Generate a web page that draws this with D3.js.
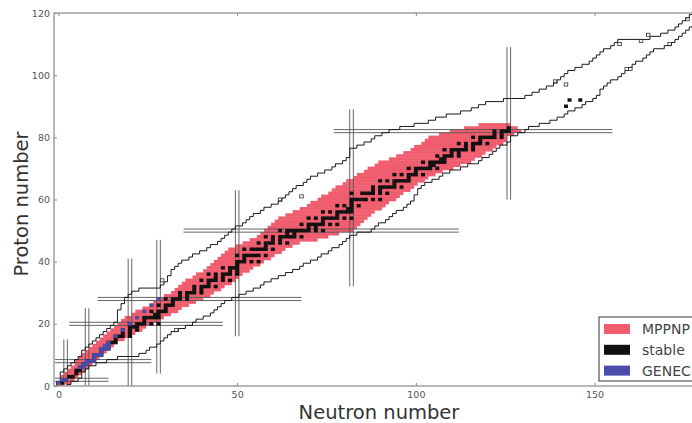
<!DOCTYPE html>
<html><head><meta charset="utf-8">
<script src="https://cdn.jsdelivr.net/npm/d3@7"></script>
<style>body{margin:0;background:#fff}svg{display:block}</style>
</head><body><svg id="c" width="692" height="423"></svg>
<script>
// ---------------- DATA ----------------
const xTicks = [0, 50, 100, 150];
const yTicks = [0, 20, 40, 60, 80, 100, 120];
const xLabel = "Neutron number";
const yLabel = "Proton number";
const legendItems = ["MPPNP", "stable", "GENEC"];

// magic-number guide lines: vertical [N, Zfrom, Zto], horizontal [Z, Nfrom, Nto]
const magicVertical = [[2,0,15],[8,0,25],[20,0,41],[28,4,47],[50,16,63],[82,32,89],[126,60,109]];
const magicHorizontal = [[2,-1,14],[8,-1,26],[20,3,46],[28,11,68],[50,35,112],[82,77,155]];

// MPPNP network band: for Z = 0..84, minimum and maximum N
const bandMinN = [0,0,1,1,2,3,4,5,5,6,7,8,9,10,11,12,13,14,15,16,17,18,19,21,22,24,26,27,29,30,
  32,33,34,35,36,38,39,41,42,43,44,45,46,47,48,50,52,54,56,57,58,59,60,61,62,64,66,68,70,71,
  73,74,76,77,78,80,81,83,84,86,87,89,90,93,95,97,99,100,102,103,104,107,110,114,118];
const bandMaxN = [1,3,4,5,6,7,8,9,10,11,12,13,14,15,16,18,20,21,23,24,26,28,29,31,33,34,36,38,40,42,
  43,45,46,48,49,50,51,53,54,56,57,59,60,62,63,65,67,72,75,78,82,83,84,85,86,87,88,90,91,92,
  94,95,96,98,99,100,102,103,105,107,110,112,115,116,118,119,121,122,124,125,125,127,129,128,126];

// network boundary (staircase lines): for Z = 0..120, lowest N and highest N
const edgeMinN = [0,0,1,1,1,2,3,4,5,6,7,7,8,9,10,11,12,13,14,15,16,17,17,17,17,18,18,19,19,20,
  21,23,29,30,31,31,32,32,33,34,35,37,38,40,42,43,45,46,47,48,49,50,52,53,54,55,57,58,60,62,
  63,64,65,66,67,69,70,71,73,75,77,78,80,81,82,82,82,84,86,88,89,91,93,96,100,104,106,109,113,116,
  118,120,125,131,133,135,137,139,140,141,142,143,145,147,149,150,151,152,153,155,156,157,166,169,171,173,174,175,176,177,178];
const edgeMaxN = [2,3,5,6,6,7,8,10,13,16,22,24,25,27,28,29,30,31,33,35,37,38,40,42,43,44,45,46,48,50,
  52,54,56,57,59,61,63,65,67,68,70,72,73,75,76,78,79,80,81,83,87,88,89,91,92,93,94,96,97,98,
  99,99,100,100,101,102,104,106,107,109,112,114,117,118,120,121,122,123,125,126,126,128,130,131,134,137,139,141,142,144,
  146,147,149,150,151,151,152,153,154,156,157,158,159,160,161,163,164,165,166,169,171,172,173,174,175,176,177,178,179,180,181];
// isolated outlined network cells [N, Z]
const islandCells = [[29,34],[33,18],[62,60],[68,61],[139,98],[142,97],[159,102],[160,102],[157,110],[163,111],[165,113],[171,110],[176,118]];

// stable (and very long-lived) nuclei: [Z, list of N]
const stableNuclei = [
 [1,[0,1]],[2,[1,2]],[3,[3,4]],[4,[5]],[5,[5,6]],[6,[6,7]],[7,[7,8]],[8,[8,9,10]],[9,[10]],[10,[10,11,12]],
 [11,[12]],[12,[12,13,14]],[13,[14]],[14,[14,15,16]],[15,[16]],[16,[16,17,18,20]],[17,[18,20]],[18,[18,20,22]],
 [19,[20,21,22]],[20,[20,22,23,24,26,28]],[21,[24]],[22,[24,25,26,27,28]],[23,[27,28]],[24,[26,28,29,30]],
 [25,[30]],[26,[28,30,31,32]],[27,[32]],[28,[30,32,33,34,36]],[29,[34,36]],[30,[34,36,37,38,40]],[31,[38,40]],
 [32,[38,40,41,42,44]],[33,[42]],[34,[40,42,43,44,46,48]],[35,[44,46]],[36,[42,44,46,47,48,50]],[37,[48,50]],
 [38,[46,48,49,50]],[39,[50]],[40,[50,51,52,54,56]],[41,[52]],[42,[50,52,53,54,55,56,58]],
 [44,[52,54,55,56,57,58,60]],[45,[58]],[46,[56,58,59,60,62,64]],[47,[60,62]],[48,[58,60,62,63,64,65,66,68]],
 [49,[64,66]],[50,[62,64,65,66,67,68,69,70,72,74]],[51,[70,72]],[52,[68,70,71,72,73,74,76,78]],[53,[74]],
 [54,[70,72,74,75,76,77,78,80,82]],[55,[78]],[56,[74,76,78,79,80,81,82]],[57,[81,82]],[58,[78,80,82,84]],
 [59,[82]],[60,[82,83,84,85,86,88,90]],[62,[82,85,86,87,88,90,92]],[63,[88,90]],[64,[88,90,91,92,93,94,96]],
 [65,[94]],[66,[90,92,94,95,96,97,98]],[67,[98]],[68,[94,96,98,99,100,102]],[69,[100]],
 [70,[98,100,101,102,103,104,106]],[71,[104,105]],[72,[102,104,105,106,107,108]],[73,[107,108]],
 [74,[106,108,109,110,112]],[75,[110,112]],[76,[108,110,111,112,113,114,116]],[77,[114,116]],
 [78,[112,114,116,117,118,120]],[79,[118]],[80,[116,118,119,120,121,122,124]],[81,[122,124]],
 [82,[122,124,125,126]],[83,[126]],[90,[142]],[92,[143,146]]
];

// GENEC network nuclei [N, Z]
const genecNuclei = [[0,1],[1,2],[2,2],[6,6],[7,6],[7,7],[8,7],[8,8],[9,8],[10,8],[10,9],[10,10],[11,10],[12,10],
 [12,11],[12,12],[13,12],[14,12],[13,13],[14,13],[14,14],[16,16],[18,18],[20,20],[22,22],[24,24],[26,26],[28,28]];

// ---------------- DRAW ----------------
const L = 54, T = 13, B = 386;
const xs = d3.scaleLinear().domain([-1.25, 180]).range([L, 701.8]);
const ys = d3.scaleLinear().domain([0, 120]).range([B, T]);
const svg = d3.select("#c");
svg.append("defs").append("clipPath").attr("id","clip")
  .append("rect").attr("x", L).attr("y", T).attr("width", xs(180)-L).attr("height", B-T);
const plot = svg.append("g").attr("clip-path","url(#clip)");

const RED = "#f05d6e", BLUE = "#4a4cab", BLACK = "#111";

// band rows
plot.append("g").selectAll("rect").data(d3.range(bandMinN.length)).join("rect")
  .attr("x", z => xs(bandMinN[z]-0.5))
  .attr("width", z => xs(bandMaxN[z]+0.5) - xs(bandMinN[z]-0.5))
  .attr("y", z => ys(z+0.5) - 0.2)
  .attr("height", z => ys(z-0.5) - ys(z+0.5) + 0.4)
  .attr("fill", RED);

// magic lines (double)
const mg = plot.append("g").attr("stroke","#555").attr("stroke-width",0.9).attr("fill","none");
magicVertical.forEach(([n,z0,z1]) => {
  [-0.5,0.5].forEach(o => mg.append("line").attr("x1", xs(n+o)).attr("x2", xs(n+o)).attr("y1", ys(z0)).attr("y2", ys(z1)));
});
magicHorizontal.forEach(([z,n0,n1]) => {
  [-0.5,0.5].forEach(o => mg.append("line").attr("y1", ys(z+o)).attr("y2", ys(z+o)).attr("x1", xs(n0)).attr("x2", xs(n1)));
});

// staircase boundaries
function stairs(arr, off) {
  const pts = [];
  arr.forEach((n, z) => { pts.push([n+off, z-0.5]); pts.push([n+off, z+0.5]); });
  return pts;
}
const line = d3.line().x(d => xs(d[0])).y(d => ys(d[1]));
plot.append("path").attr("d", line(stairs(edgeMinN, -0.5))).attr("fill","none").attr("stroke","#1a1a1a").attr("stroke-width",1);
plot.append("path").attr("d", line(stairs(edgeMaxN, 0.5))).attr("fill","none").attr("stroke","#1a1a1a").attr("stroke-width",1);
plot.append("g").selectAll("rect").data(islandCells).join("rect")
  .attr("x", d => xs(d[0]-0.5)).attr("y", d => ys(d[1]+0.5))
  .attr("width", d => xs(d[0]+0.5)-xs(d[0]-0.5)).attr("height", d => ys(d[1]-0.5)-ys(d[1]+0.5))
  .attr("fill","none").attr("stroke","#333").attr("stroke-width",0.8);

// stable
const S = 0.56;
const stableFlat = stableNuclei.flatMap(([z, ns]) => ns.map(n => [n, z]));
plot.append("g").selectAll("rect").data(stableFlat).join("rect")
  .attr("x", d => xs(d[0]-S)).attr("y", d => ys(d[1]+S))
  .attr("width", d => xs(d[0]+S)-xs(d[0]-S)).attr("height", d => ys(d[1]-S)-ys(d[1]+S))
  .attr("fill", BLACK);

// GENEC
plot.append("g").selectAll("rect").data(genecNuclei).join("rect")
  .attr("x", d => xs(d[0]-S)).attr("y", d => ys(d[1]+S))
  .attr("width", d => xs(d[0]+S)-xs(d[0]-S)).attr("height", d => ys(d[1]-S)-ys(d[1]+S))
  .attr("fill", BLUE);

// spines
svg.append("rect").attr("x", L).attr("y", T).attr("width", xs(180)-L).attr("height", B-T)
  .attr("fill","none").attr("stroke","#9a9a9a").attr("stroke-width",1.4);

// axes
const ax = d3.axisBottom(xs).tickValues(xTicks).tickSize(-3).tickPadding(5).tickFormat(d3.format("d"));
const gx = svg.append("g").attr("transform", `translate(0,${B})`).call(ax);
const axTop = d3.axisTop(xs).tickValues(xTicks).tickSize(-3).tickFormat("");
const gxt = svg.append("g").attr("transform", `translate(0,${T})`).call(axTop);
const ay = d3.axisLeft(ys).tickValues(yTicks).tickSize(-3).tickPadding(4).tickFormat(d3.format("d"));
const gy = svg.append("g").attr("transform", `translate(${L},0)`).call(ay);
[gx, gxt, gy].forEach(g => {
  g.select(".domain").remove();
  g.selectAll("line").attr("stroke","#888");
  g.selectAll("text").attr("fill","#555").attr("font-family","DejaVu Sans").attr("font-size","9.5px");
});

// axis titles
svg.append("text").attr("x", 379).attr("y", 419).attr("text-anchor","middle")
  .attr("font-family","DejaVu Sans").attr("font-size","19.5px").attr("fill","#333").text(xLabel);
svg.append("text").attr("transform","translate(28,204) rotate(-90)").attr("text-anchor","middle")
  .attr("font-family","DejaVu Sans").attr("font-size","19.5px").attr("fill","#333").text(yLabel);

// legend
const lg = svg.append("g");
lg.append("rect").attr("x", 599).attr("y", 317).attr("width", 110).attr("height", 64)
  .attr("fill","#fff").attr("stroke","#333").attr("stroke-width",1);
const lcol = [RED, BLACK, BLUE];
legendItems.forEach((t, i) => {
  const cy = 329 + i * 20.8;
  lg.append("rect").attr("x", 604).attr("y", cy-5).attr("width", 26).attr("height", 10).attr("fill", lcol[i]);
  lg.append("text").attr("x", 642).attr("y", cy+5).attr("font-family","DejaVu Sans").attr("font-size","14px")
    .attr("fill","#444").text(t);
});
</script></body></html>
